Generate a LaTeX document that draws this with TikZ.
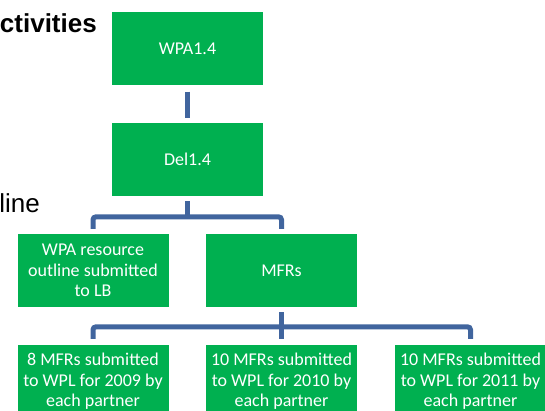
\documentclass[tikz,border=0pt]{standalone}
\usepackage{fontspec}
\setmainfont{Liberation Sans}
\newfontfamily\calibri{Carlito}
\definecolor{boxgreen}{RGB}{0, 176, 80}
\definecolor{linkblue}{RGB}{65, 101, 158}
\usepackage{tikz}
\tikzset{
  wpbox/.style={fill=boxgreen, text=white, minimum width=151pt, minimum height=73pt, inner sep=2pt, align=center, font=\calibri\fontsize{18}{20.5}\selectfont},
  link/.style={draw=linkblue, line width=5pt, rounded corners=3pt}
}

\begin{document}
\begin{tikzpicture}[x=1pt, y=-1pt]
  \clip (0,0) rectangle (545,411);

  % Cut-off slide text
  \node[font=\bfseries\fontsize{26}{30}\selectfont, anchor=base east, inner sep=0pt] (acts) at (97,33) {ctivities};
  \node[font=\fontsize{26}{30}\selectfont, anchor=base east, inner sep=0pt] (outl) at (40,213) {line};

  % Work package and deliverable
  \node[wpbox] (wpa) at (187.5,49) {WPA1.4};
  \node[wpbox] (del) at (187.5,159.5) {Del1.4};

  % Second level
  \node[wpbox] (res) at (93,270.5) {WPA resource\\outline submitted\\to LB};
  \node[wpbox] (mfr) at (281.5,270.5) {MFRs};

  % MFRs per year
  \node[wpbox] (m09) at (93,381.5) {8 MFRs submitted\\to WPL for 2009 by\\each partner};
  \node[wpbox] (m10) at (281.5,381.5) {10 MFRs submitted\\to WPL for 2010 by\\each partner};
  \node[wpbox] (m11) at (470.5,381.5) {10 MFRs submitted\\to WPL for 2011 by\\each partner};

  % Connectors
  \draw[link, shorten <=6pt, shorten >=5pt] (wpa) -- (del);
  \draw[link, shorten <=5pt] (del.south) -- ++(0,21);
  \draw[link, shorten <=5pt, shorten >=5pt] (res.north) -- ++(0,-17) -| (mfr.north);
  \draw[link, shorten <=5pt, shorten >=6pt] (mfr) -- (m10);
  \draw[link, shorten <=6pt, shorten >=6pt] (m09.north) -- ++(0,-18) -| (m11.north);
\end{tikzpicture}
\end{document}
